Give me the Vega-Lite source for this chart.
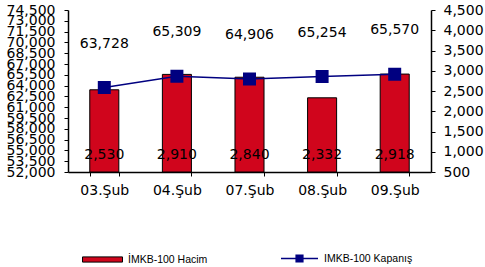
{
  "$schema": "https://vega.github.io/schema/vega-lite/v6.json",
  "width": 363,
  "height": 162,
  "autosize": "none",
  "padding": {"left": 68, "top": 10, "right": 54, "bottom": 95},
  "background": "white",
  "config": {
    "view": {"stroke": null},
    "axis": {"labelFont": "DejaVu Sans", "labelFontSize": 14, "labelColor": "black", "domainColor": "black", "tickColor": "black", "grid": false, "title": null, "domainWidth": 1.5, "tickWidth": 1, "labelOverlap": false, "labelBound": false, "labelFlush": false},
    "legend": {"labelFont": "Liberation Sans", "labelFontSize": 10.5, "labelColor": "black", "labelOffset": 5, "title": null, "orient": "none", "direction": "horizontal"}
  },
  "data": {"values": [
    {"d": "03.Şub", "hacim": 2530, "kapanis": 63728},
    {"d": "04.Şub", "hacim": 2910, "kapanis": 65309},
    {"d": "07.Şub", "hacim": 2840, "kapanis": 64906},
    {"d": "08.Şub", "hacim": 2332, "kapanis": 65254},
    {"d": "09.Şub", "hacim": 2918, "kapanis": 65570}
  ]},
  "layer": [
    {
      "layer": [
        {
          "mark": {"type": "bar", "stroke": "black", "strokeWidth": 1},
          "encoding": {
            "x": {"field": "d", "type": "nominal", "sort": null,
              "scale": {"paddingInner": 0.6, "paddingOuter": 0.3},
              "axis": {"labelAngle": 0, "tickBand": "extent", "tickSize": 4, "labelPadding": 7}},
            "y": {"field": "hacim", "type": "quantitative", "scale": {"domain": [500, 4500], "nice": false, "zero": false},
              "axis": {"orient": "right", "values": [500, 1000, 1500, 2000, 2500, 3000, 3500, 4000, 4500], "format": ",d", "tickSize": 4, "labelPadding": 8, "labelOverlap": false}},
            "y2": {"datum": 500},
            "fill": {"datum": "İMKB-100 Hacim", "type": "nominal",
              "scale": {"range": ["#d0051c"]},
              "legend": {
                "legendX": 14, "legendY": 229,
                "symbolSize": 1600, "symbolType": "M-1,-0.13H1V0.13H-1Z",
                "symbolStrokeColor": "black", "symbolStrokeWidth": 1,
                "encode": {"symbols": {"update": {"stroke": {"value": "black"}, "strokeWidth": {"value": 1}, "fill": {"value": "#d0051c"}, "opacity": {"value": 1}}}}
              }}
          }
        },
        {
          "mark": {"type": "text", "font": "DejaVu Sans", "fontSize": 14, "color": "black", "baseline": "middle", "dy": -17},
          "encoding": {
            "x": {"field": "d", "type": "nominal", "sort": null},
            "y": {"datum": 500, "type": "quantitative",
              "axis": {"orient": "right", "values": [500, 1000, 1500, 2000, 2500, 3000, 3500, 4000, 4500], "format": ",d", "tickSize": 4, "labelPadding": 8, "labelOverlap": false}},
            "text": {"field": "hacim", "type": "quantitative", "format": ",d"}
          }
        }
      ]
    },
    {
      "layer": [
        {
          "mark": {"type": "line", "strokeWidth": 1.5, "point": {"shape": "square", "size": 121, "filled": true, "fill": "#000080", "opacity": 1}},
          "encoding": {
            "x": {"field": "d", "type": "nominal", "sort": null},
            "y": {"field": "kapanis", "type": "quantitative", "scale": {"domain": [52000, 74500], "nice": false, "zero": false},
              "axis": {"orient": "left", "values": [52000, 53500, 55000, 56500, 58000, 59500, 61000, 62500, 64000, 65500, 67000, 68500, 70000, 71500, 73000, 74500], "format": ",d", "tickSize": 4, "labelPadding": 9, "labelOverlap": false}},
            "stroke": {"datum": "IMKB-100 Kapanış", "type": "nominal",
              "scale": {"range": ["#000080"]},
              "legend": {
                "legendX": 212, "legendY": 229,
                "symbolSize": 1369, "symbolType": "M-1,0H1M-0.18,-0.18H0.18V0.18H-0.18Z",
                "symbolStrokeWidth": 1.5, "symbolFillColor": "#000080",
                "encode": {"symbols": {"update": {"stroke": {"value": "#000080"}, "strokeWidth": {"value": 1.5}, "fill": {"value": "#000080"}, "opacity": {"value": 1}}}}
              }}
          }
        },
        {
          "mark": {"type": "text", "font": "DejaVu Sans", "fontSize": 14, "color": "black", "baseline": "middle", "dy": -44},
          "encoding": {
            "x": {"field": "d", "type": "nominal", "sort": null},
            "y": {"field": "kapanis", "type": "quantitative",
              "axis": {"orient": "left", "values": [52000, 53500, 55000, 56500, 58000, 59500, 61000, 62500, 64000, 65500, 67000, 68500, 70000, 71500, 73000, 74500], "format": ",d", "tickSize": 4, "labelPadding": 9, "labelOverlap": false}},
            "text": {"field": "kapanis", "type": "quantitative", "format": ",d"}
          }
        }
      ]
    }
  ],
  "resolve": {"scale": {"y": "independent"}, "axis": {"y": "independent"}}
}
